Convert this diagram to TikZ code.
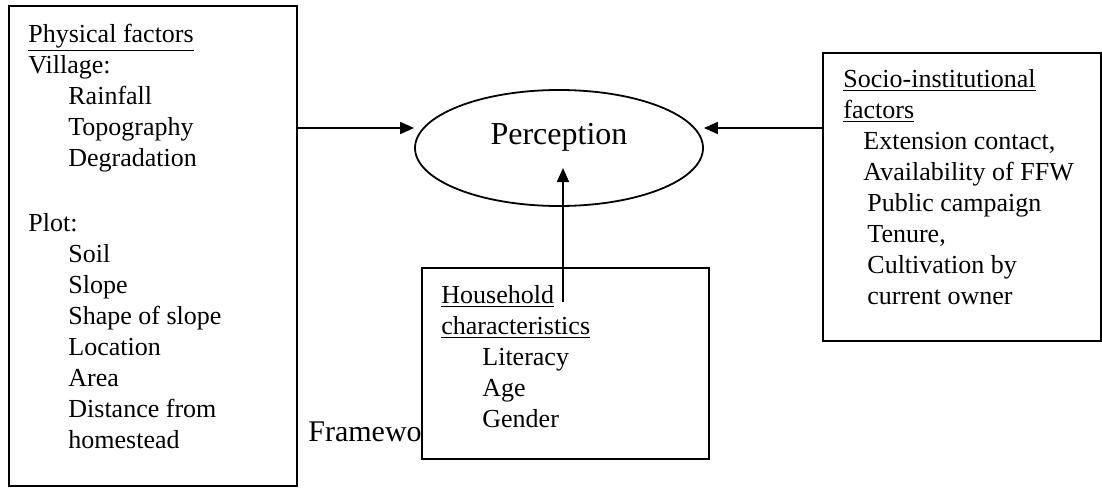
\documentclass[tikz,border=0pt]{standalone}
\usepackage{fontspec}
\setmainfont{Liberation Serif}
\usetikzlibrary{arrows.meta,shapes.geometric}

\tikzset{
	factbox/.style={draw,line width=0.9pt,fill=white,rectangle,inner sep=0pt,anchor=north west},
	facttext/.style={inner sep=0pt,anchor=base west,align=left,font=\fontsize{13}{15.5}\selectfont},
	arr/.style={line width=0.9pt,-{Triangle[length=7pt,width=6pt]}}
}
\newcommand{\ind}[1]{\hspace*{#1pt}}

\begin{document}
\begin{tikzpicture}[x=0.5pt,y=-0.5pt]
	\useasboundingbox (0,0) rectangle (1102,487);
	% caption peeking out behind the boxes
	\node[inner sep=0pt,anchor=base west,font=\fontsize{15}{18}\selectfont] (capt) at (308,441) {Framework};
	% boxes
	\node[factbox,minimum width=144pt,minimum height=240pt] (phys) at (8,5) {};
	\node[factbox,minimum width=143.5pt,minimum height=95.5pt] (house) at (421,267) {};
	\node[factbox,minimum width=139pt,minimum height=144pt] (socio) at (822,52) {};
	\node[draw,ellipse,line width=0.9pt,minimum width=144pt,minimum height=58pt,inner sep=0pt,font=\fontsize{16}{19}\selectfont,text depth=14pt] (perc) at (559,148) {Perception};
	% texts (base = baseline of the last line)
	\node[facttext] (physT) at (28,448) {\underline{Physical factors}\\ Village:\\ \ind{20}Rainfall\\ \ind{20}Topography\\ \ind{20}Degradation\\[17pt] Plot:\\ \ind{20}Soil\\ \ind{20}Slope\\ \ind{20}Shape of slope\\ \ind{20}Location\\ \ind{20}Area\\ \ind{20}Distance from\\ \ind{20}homestead};
	\node[facttext] (houseT) at (441,427) {\underline{Household}\\ \underline{characteristics}\\ \ind{20.5}Literacy\\ \ind{20.5}Age\\ \ind{20.5}Gender};
	\node[facttext] (socioT) at (843,304) {\underline{Socio-institutional}\\ \underline{factors}\\ \ind{10}Extension contact,\\ \ind{10}Availability of FFW\\ \ind{12}Public campaign\\ \ind{12}Tenure,\\ \ind{12}Cultivation by\\ \ind{12}current owner};
	% arrows
	\coordinate (pinL) at ([yshift=10pt]perc.west);
	\coordinate (pinR) at ([yshift=10pt]perc.east);
	\coordinate (hhfoot) at (563,302);
	\coordinate (perctip) at (563,168);
	\draw[arr] (phys.east |- pinL) -- (pinL);
	\draw[arr] (socio.west |- pinR) -- (pinR);
	\draw[arr] (hhfoot) -- (perctip);
\end{tikzpicture}
\end{document}
